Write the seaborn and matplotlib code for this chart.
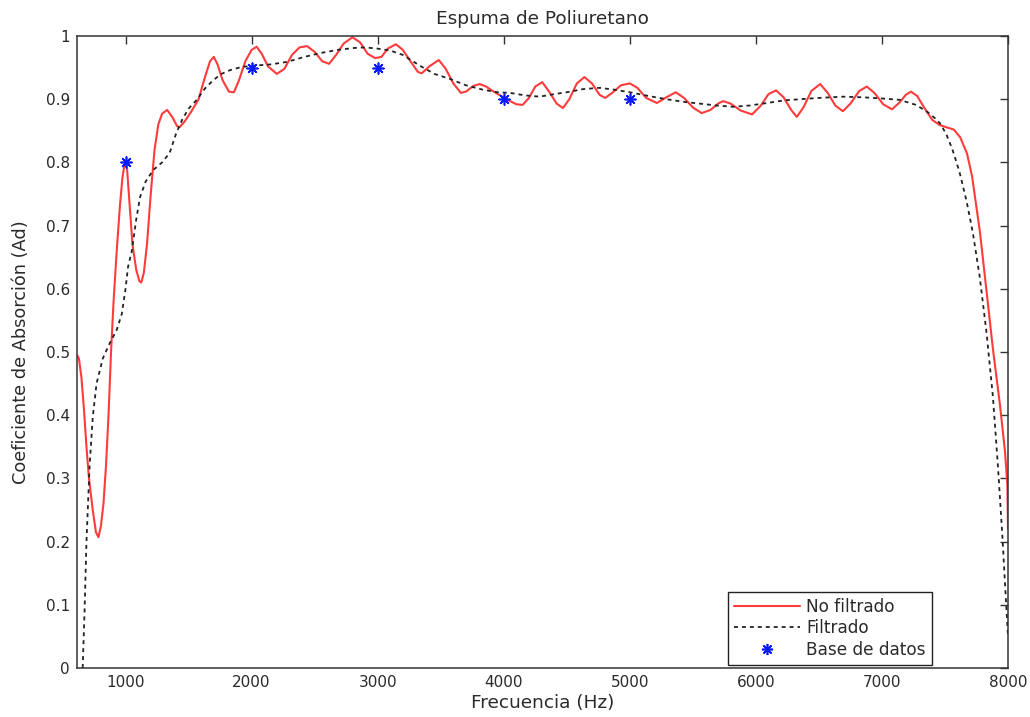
import matplotlib
matplotlib.use("Agg")
import matplotlib.pyplot as plt
from matplotlib.lines import Line2D
from matplotlib.ticker import FuncFormatter
import seaborn as sns
import pandas as pd

# ---- data ----
red_freq = [615, 630, 650, 670, 690, 710, 740, 765, 785, 805, 825, 845, 865, 885, 905, 930, 955, 975, 990,
            1000, 1012, 1030, 1055, 1085, 1110, 1125, 1145, 1170, 1200, 1230, 1260, 1290, 1330, 1370, 1410,
            1430, 1470, 1520, 1580, 1630, 1670, 1700, 1730, 1770, 1820, 1860, 1900, 1950, 2000, 2040, 2080,
            2130, 2200, 2260, 2320, 2380, 2440, 2500, 2560, 2615, 2670, 2730, 2800, 2860, 2920, 2980, 3030,
            3080, 3145, 3200, 3260, 3320, 3350, 3410, 3485, 3540, 3600, 3660, 3700, 3760, 3810, 3860, 3920,
            3980, 4040, 4100, 4150, 4200, 4250, 4305, 4360, 4420, 4470, 4520, 4580, 4640, 4700, 4760, 4805,
            4860, 4930, 5000, 5060, 5130, 5215, 5290, 5365, 5430, 5500, 5570, 5640, 5700, 5740, 5800, 5880,
            5970, 6040, 6100, 6160, 6220, 6280, 6325, 6380, 6440, 6510, 6570, 6630, 6690, 6750, 6820, 6880,
            6940, 7010, 7080, 7140, 7190, 7230, 7280, 7340, 7400, 7460, 7520, 7570, 7620, 7675, 7715, 7778,
            7834, 7881, 7937, 7976, 7995, 8000]
red_val = [0.495, 0.490, 0.460, 0.410, 0.350, 0.300, 0.250, 0.215, 0.207, 0.225, 0.260, 0.320, 0.400, 0.500,
           0.580, 0.660, 0.730, 0.775, 0.795, 0.800, 0.790, 0.740, 0.670, 0.630, 0.612, 0.610, 0.625, 0.670,
           0.750, 0.820, 0.860, 0.877, 0.883, 0.872, 0.857, 0.856, 0.865, 0.880, 0.900, 0.935, 0.960, 0.967,
           0.955, 0.930, 0.912, 0.911, 0.930, 0.960, 0.978, 0.983, 0.972, 0.952, 0.940, 0.948, 0.970, 0.982,
           0.984, 0.975, 0.960, 0.956, 0.970, 0.988, 0.998, 0.990, 0.972, 0.965, 0.967, 0.980, 0.987, 0.978,
           0.960, 0.943, 0.941, 0.952, 0.962, 0.948, 0.925, 0.910, 0.912, 0.921, 0.924, 0.920, 0.912, 0.905,
           0.898, 0.892, 0.891, 0.902, 0.920, 0.927, 0.912, 0.893, 0.886, 0.900, 0.925, 0.935, 0.925, 0.907,
           0.902, 0.910, 0.922, 0.925, 0.918, 0.902, 0.894, 0.903, 0.911, 0.902, 0.887, 0.878, 0.883, 0.893,
           0.897, 0.893, 0.882, 0.876, 0.890, 0.908, 0.914, 0.903, 0.883, 0.872, 0.888, 0.913, 0.924, 0.910,
           0.890, 0.881, 0.893, 0.913, 0.920, 0.910, 0.892, 0.884, 0.895, 0.907, 0.912, 0.905, 0.885, 0.867,
           0.859, 0.855, 0.852, 0.840, 0.814, 0.778, 0.689, 0.588, 0.504, 0.415, 0.343, 0.290, 0.220]

filt_freq = [660, 675, 690, 715, 740, 770, 820, 875, 930, 970, 1000, 1020, 1050, 1085, 1115, 1160, 1220,
             1290, 1350, 1400, 1450, 1500, 1565, 1630, 1695, 1760, 1830, 1920, 2010, 2150, 2280, 2420, 2545,
             2680, 2810, 2900, 3000, 3100, 3200, 3335, 3450, 3575, 3700, 3835, 3950, 4050, 4170, 4285, 4400,
             4500, 4630, 4760, 4880, 5000, 5150, 5290, 5420, 5555, 5690, 5820, 5950, 6090, 6220, 6350, 6500,
             6690, 6850, 7010, 7140, 7270, 7360, 7420, 7460, 7510, 7560, 7615, 7670, 7720, 7775, 7830, 7880,
             7920, 7955, 7980, 8000]
filt_val = [0.000, 0.090, 0.200, 0.320, 0.397, 0.450, 0.490, 0.514, 0.535, 0.560, 0.600, 0.635, 0.660,
            0.710, 0.745, 0.770, 0.788, 0.800, 0.815, 0.845, 0.868, 0.885, 0.899, 0.917, 0.930, 0.940,
            0.946, 0.951, 0.953, 0.955, 0.959, 0.967, 0.973, 0.978, 0.981, 0.982, 0.980, 0.977, 0.970,
            0.953, 0.940, 0.932, 0.922, 0.915, 0.911, 0.910, 0.906, 0.904, 0.908, 0.911, 0.916, 0.918,
            0.915, 0.911, 0.905, 0.900, 0.896, 0.893, 0.890, 0.888, 0.890, 0.894, 0.898, 0.900, 0.902,
            0.904, 0.903, 0.901, 0.899, 0.891, 0.880, 0.870, 0.862, 0.845, 0.820, 0.785, 0.740, 0.690,
            0.620, 0.530, 0.430, 0.320, 0.210, 0.120, 0.050]

db_freq = [1000, 2000, 3000, 4000, 5000]
db_val = [0.80, 0.95, 0.95, 0.90, 0.90]

x_ticks = [1000, 2000, 3000, 4000, 5000, 6000, 7000, 8000]
y_ticks = [0, 0.1, 0.2, 0.3, 0.4, 0.5, 0.6, 0.7, 0.8, 0.9, 1.0]

title = "Espuma de Poliuretano"
xlabel = "Frecuencia (Hz)"
ylabel = "Coeficiente de Absorción (Ad)"
labels = ["No filtrado", "Filtrado", "Base de datos"]

df_red = pd.DataFrame({"f": red_freq, "v": red_val})
df_filt = pd.DataFrame({"f": filt_freq, "v": filt_val})
df_db = pd.DataFrame({"f": db_freq, "v": db_val})

# ---- style ----
sns.set_theme(style="white")
plt.rcParams["font.family"] = ["DejaVu Sans"]

fig = plt.figure(figsize=(10.30, 7.17), dpi=100)
ax = fig.add_axes([77 / 1030, (717 - 668) / 717, 931 / 1030, 632 / 717])

red_c = "#ff3b3b"
dash_c = "#222222"
star_c = "#0a1aff"
txt_c = "#2a2a2a"
ast = (8, 2, 0)
dash = (0, (2.2, 2.2))

sns.lineplot(data=df_red, x="f", y="v", ax=ax, color=red_c, linewidth=1.5,
             estimator=None, sort=True, legend=False)
sns.lineplot(data=df_filt, x="f", y="v", ax=ax, color=dash_c, linewidth=1.3,
             estimator=None, sort=True, legend=False, linestyle=dash)
sns.scatterplot(data=df_db, x="f", y="v", ax=ax, color=star_c, marker=ast, s=60,
                linewidth=1.2, edgecolor=star_c, legend=False, zorder=5)

ax.set_xlim(615, 8000)
ax.set_ylim(0, 1)
ax.set_xticks(x_ticks)
ax.set_yticks(y_ticks)
ax.yaxis.set_major_formatter(FuncFormatter(lambda v, p: "%g" % v))
ax.tick_params(direction="in", length=6, width=1, colors="#333333", labelsize=11,
               top=True, right=True, labelcolor=txt_c, pad=5)
for s in ax.spines.values():
    s.set_visible(True)
    s.set_color("#333333")
    s.set_linewidth(1.1)

ax.set_title(title, fontsize=13.3, color=txt_c, pad=8.5)
ax.set_xlabel(xlabel, fontsize=13.3, color=txt_c)
ax.set_ylabel(ylabel, fontsize=12.8, color=txt_c)
ax.xaxis.set_label_coords(0.5, -0.041)
ax.yaxis.set_label_coords(-0.05, 0.5)

handles = [
    Line2D([], [], color=red_c, linewidth=1.5),
    Line2D([], [], color=dash_c, linewidth=1.3, linestyle=dash),
    Line2D([], [], color=star_c, linestyle="none", marker=ast, markersize=8, markeredgewidth=1.2),
]
leg = ax.legend(handles, labels, loc="lower right", bbox_to_anchor=(0.9184, 0.005),
                fontsize=12.2, frameon=True, fancybox=False, handlelength=3.9,
                handletextpad=0.35, borderpad=0.36, labelspacing=0.2, borderaxespad=0)
leg.get_frame().set_edgecolor("#222222")
leg.get_frame().set_linewidth(1.0)
leg.get_frame().set_alpha(1)
for t in leg.get_texts():
    t.set_color(txt_c)

fig.savefig("out.png", dpi=100, facecolor="white")
